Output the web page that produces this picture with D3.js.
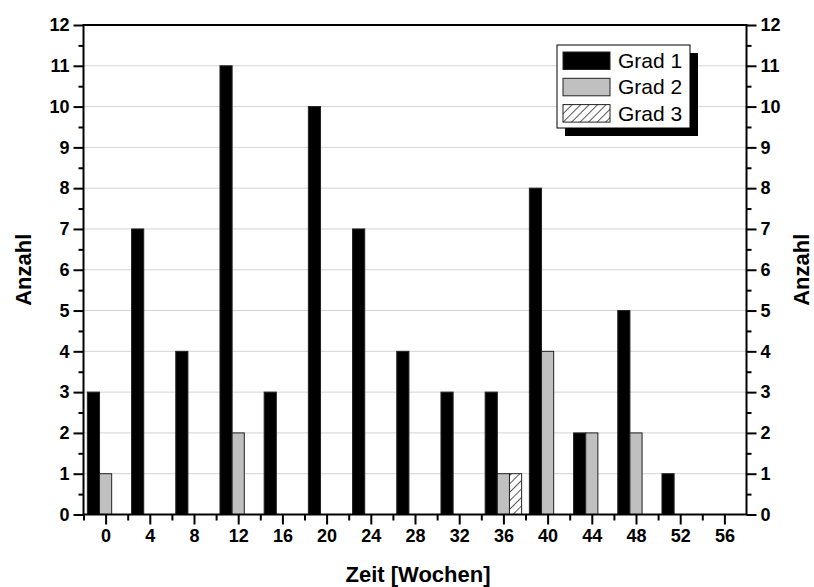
<!DOCTYPE html>
<html>
<head>
<meta charset="utf-8">
<script src="https://cdn.jsdelivr.net/npm/d3@7"></script>
<style>
  body { margin: 0; background: #fff; }
  svg { font-family: "Liberation Sans", Arial, sans-serif; }
</style>
</head>
<body>
<svg id="chart" width="814" height="587"></svg>
<script>
// data
var weeks = [0, 4, 8, 12, 16, 20, 24, 28, 32, 36, 40, 44, 48, 52, 56];
var grad1 = [3, 7, 4, 11, 3, 10, 7, 4, 3, 3, 8, 2, 5, 1, 0];
var grad2 = [1, 0, 0, 2, 0, 0, 0, 0, 0, 1, 4, 2, 2, 0, 0];
var grad3 = [0, 0, 0, 0, 0, 0, 0, 0, 0, 1, 0, 0, 0, 0, 0];
var seriesNames = ["Grad 1", "Grad 2", "Grad 3"];
var xTicks = weeks;
var yTicks = [0, 1, 2, 3, 4, 5, 6, 7, 8, 9, 10, 11, 12];

// layout (plot frame in px)
var plotLeft = 83.5, plotRight = 746.5, plotTop = 25, plotBottom = 514.5;

var svg = d3.select("#chart");

var defs = svg.append("defs");
var pat = defs.append("pattern")
  .attr("id", "hatch")
  .attr("patternUnits", "userSpaceOnUse")
  .attr("width", 6).attr("height", 6)
  .attr("patternTransform", "rotate(45)");
pat.append("rect").attr("width", 6).attr("height", 6).attr("fill", "#fff");
pat.append("line").attr("x1", 0).attr("y1", 0).attr("x2", 0).attr("y2", 6)
  .attr("stroke", "#000").attr("stroke-width", 1.3);

var x = d3.scaleLinear().domain([-2, 58]).range([plotLeft, plotRight]);
var y = d3.scaleLinear().domain([0, 12]).range([plotBottom, plotTop]);
// offset inside each group, in weeks
var xInner = d3.scaleBand().domain(seriesNames).range([-1.65, 1.65]);

var fills = { "Grad 1": "#000", "Grad 2": "#c0c0c0", "Grad 3": "url(#hatch)" };
var values = { "Grad 1": grad1, "Grad 2": grad2, "Grad 3": grad3 };

// grid lines
svg.append("g").selectAll("line")
  .data(yTicks.slice(1, -1))
  .enter().append("line")
  .attr("x1", plotLeft).attr("x2", plotRight)
  .attr("y1", function(d) { return y(d); })
  .attr("y2", function(d) { return y(d); })
  .attr("stroke", "#d4d4d4").attr("stroke-width", 1);

// bars
var rows = [];
seriesNames.forEach(function(s) {
  weeks.forEach(function(w, i) {
    if (values[s][i] > 0) rows.push({ s: s, w: w, v: values[s][i] });
  });
});

svg.append("g").selectAll("rect")
  .data(rows)
  .enter().append("rect")
  .attr("x", function(d) { return x(d.w + xInner(d.s)); })
  .attr("width", function(d) { return x(xInner.bandwidth()) - x(0); })
  .attr("y", function(d) { return y(d.v); })
  .attr("height", function(d) { return y(0) - y(d.v); })
  .attr("fill", function(d) { return fills[d.s]; })
  .attr("stroke", "#222").attr("stroke-width", 1);

// axes
function styleAxis(g) {
  g.selectAll(".domain").remove();
  g.selectAll("line").attr("stroke", "#000").attr("stroke-width", 2);
  g.selectAll("text").attr("font-size", "18px").attr("font-weight", "bold").attr("fill", "#000");
}

var yMinor = d3.range(0.5, 12, 1);
var xMinor = d3.range(-2, 58, 4);

svg.append("g")
  .attr("transform", "translate(" + plotLeft + ",0)")
  .call(d3.axisLeft(y).tickValues(yTicks).tickSize(10).tickPadding(4))
  .call(styleAxis);
svg.append("g")
  .attr("transform", "translate(" + plotLeft + ",0)")
  .call(d3.axisLeft(y).tickValues(yMinor).tickSize(5).tickFormat(""))
  .call(styleAxis);

svg.append("g")
  .attr("transform", "translate(" + plotRight + ",0)")
  .call(d3.axisRight(y).tickValues(yTicks).tickSize(10).tickPadding(4))
  .call(styleAxis);
svg.append("g")
  .attr("transform", "translate(" + plotRight + ",0)")
  .call(d3.axisRight(y).tickValues(yMinor).tickSize(5).tickFormat(""))
  .call(styleAxis);

svg.append("g")
  .attr("transform", "translate(0," + plotBottom + ")")
  .call(d3.axisBottom(x).tickValues(xTicks).tickSize(10).tickPadding(5))
  .call(styleAxis);
svg.append("g")
  .attr("transform", "translate(0," + plotBottom + ")")
  .call(d3.axisBottom(x).tickValues(xMinor).tickSize(6).tickFormat(""))
  .call(styleAxis);

// frame
svg.append("rect")
  .attr("x", plotLeft).attr("y", plotTop)
  .attr("width", plotRight - plotLeft).attr("height", plotBottom - plotTop)
  .attr("fill", "none").attr("stroke", "#000").attr("stroke-width", 2);

// axis titles
svg.append("text")
  .attr("x", (plotLeft + plotRight) / 2 + 3).attr("y", 582)
  .attr("text-anchor", "middle")
  .attr("font-size", "22px").attr("font-weight", "bold")
  .text("Zeit [Wochen]");

svg.append("text")
  .attr("transform", "translate(31," + (plotTop + plotBottom) / 2 + ") rotate(-90)")
  .attr("text-anchor", "middle")
  .attr("font-size", "22px").attr("font-weight", "bold")
  .text("Anzahl");

svg.append("text")
  .attr("transform", "translate(809," + (plotTop + plotBottom) / 2 + ") rotate(-90)")
  .attr("text-anchor", "middle")
  .attr("font-size", "22px").attr("font-weight", "bold")
  .text("Anzahl");

// legend
var lg = svg.append("g").attr("transform", "translate(557,45)");
lg.append("rect").attr("x", 8).attr("y", 8).attr("width", 133).attr("height", 83).attr("fill", "#000");
lg.append("rect").attr("x", 0).attr("y", 0).attr("width", 133).attr("height", 83)
  .attr("fill", "#fff").attr("stroke", "#000").attr("stroke-width", 1);

var items = lg.selectAll(".item")
  .data(seriesNames)
  .enter().append("g")
  .attr("class", "item")
  .attr("transform", function(d, i) { return "translate(6," + (7 + i * 26.3) + ")"; });
items.append("rect")
  .attr("width", 47).attr("height", 17.5)
  .attr("fill", function(d) { return fills[d]; })
  .attr("stroke", "#222").attr("stroke-width", 1);
items.append("text")
  .attr("x", 55).attr("y", 16)
  .attr("font-size", "21px")
  .text(function(d) { return d; });
</script>
</body>
</html>
